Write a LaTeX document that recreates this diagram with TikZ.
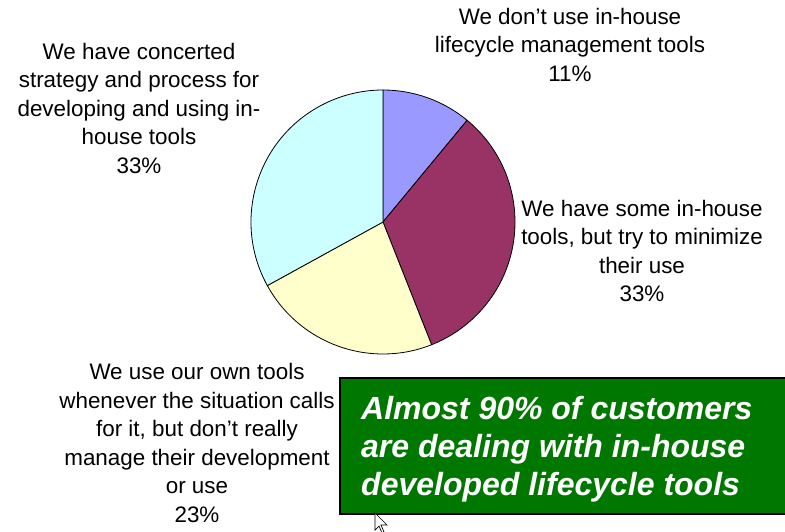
\documentclass[tikz,border=0pt]{standalone}
\usepackage{fontspec}
\setmainfont{Liberation Sans}
\definecolor{slicepurple}{HTML}{9999FF}
\definecolor{slicemaroon}{HTML}{993366}
\definecolor{sliceyellow}{HTML}{FFFFCC}
\definecolor{slicecyan}{HTML}{CCFFFF}
\definecolor{boxgreen}{HTML}{007800}
\begin{document}
\begin{tikzpicture}[x=1pt,y=1pt,
  slice/.style={draw=black, line width=0.8pt, line join=round},
  lbl/.style={align=center, inner sep=0pt, font=\fontsize{22.4}{28.5}\selectfont},
  callout/.style={draw=black, line width=2pt, fill=boxgreen, inner sep=0pt, anchor=north west},
  callouttext/.style={align=left, inner sep=0pt, anchor=north west, text=white,
     font=\fontsize{32}{38}\selectfont\bfseries\itshape}]
\useasboundingbox (0,0) rectangle (785,531);
\clip (0,0) rectangle (785,531);
\coordinate (c) at (383,309);
% pie slices
\draw[slice, fill=slicepurple] (c) -- ++(90:132) arc[start angle=90, end angle=50.4, radius=132] -- cycle;
\draw[slice, fill=slicemaroon] (c) -- ++(50.4:132) arc[start angle=50.4, end angle=-68.4, radius=132] -- cycle;
\draw[slice, fill=sliceyellow] (c) -- ++(-68.4:132) arc[start angle=-68.4, end angle=-151.2, radius=132] -- cycle;
\draw[slice, fill=slicecyan] (c) -- ++(-151.2:132) arc[start angle=-151.2, end angle=-270, radius=132] -- cycle;
% labels
\node[lbl] (l11) at (570,486.5) {We don’t use in-house\\lifecycle management tools\\11\%};
\node[lbl] (l33r) at (642,280) {We have some in-house\\tools, but try to minimize\\their use\\33\%};
\node[lbl] (l33l) at (139,423) {We have concerted\\strategy and process for\\developing and using in-\\house tools\\33\%};
\node[lbl] (l23) at (197,88) {We use our own tools\\whenever the situation calls\\for it, but don’t really\\manage their development\\or use\\23\%};
% callout box
\node[callout, minimum width=460pt, minimum height=136pt] (box) at (339,154) {};
\node[callouttext] (boxtext) at (361,135) {Almost 90\% of customers\\are dealing with in-house\\developed lifecycle tools};
% mouse cursor
\draw[fill=white, draw=black, line width=0.7pt, line join=miter]
  (375,18) -- (375,1) -- (379,5) -- (382,-2) -- (384,-1) -- (381,6) -- (387,6) -- cycle;
\end{tikzpicture}
\end{document}
